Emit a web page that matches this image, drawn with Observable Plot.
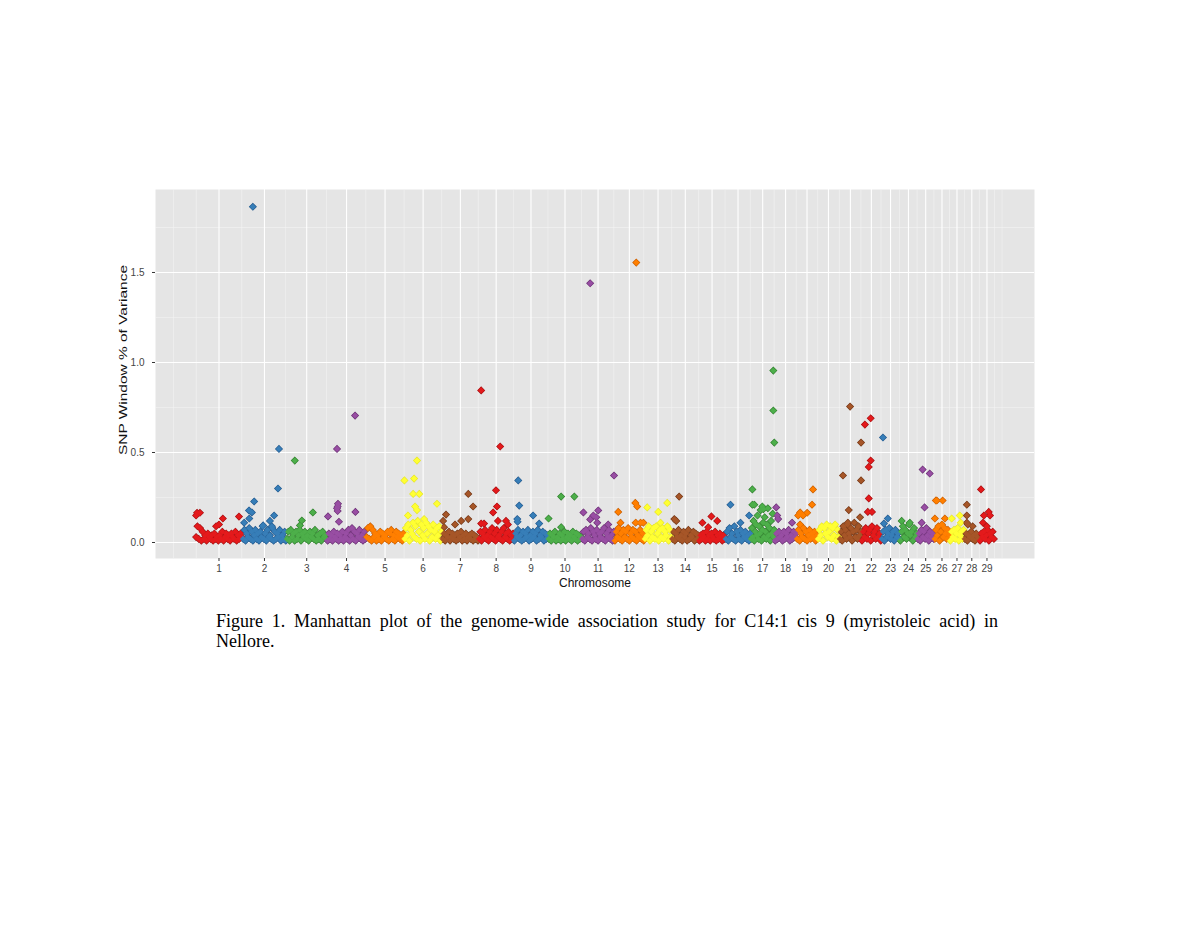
<!DOCTYPE html>
<html><head><meta charset="utf-8">
<script src="https://cdn.jsdelivr.net/npm/d3@7"></script>
<script src="https://cdn.jsdelivr.net/npm/@observablehq/plot@0.6"></script>
<style>
body{margin:0;background:#fff;width:1200px;height:927px;position:relative;overflow:hidden;}
#chart{position:absolute;left:0;top:0;}
#caption{position:absolute;left:216px;top:611px;width:782px;font-family:"Liberation Serif","Times New Roman",serif;font-size:18px;line-height:20px;color:#000;}
.l1{text-align:justify;text-align-last:justify;white-space:nowrap;}
</style></head><body>
<div id="chart"></div>
<div id="caption"><div class="l1">Figure 1. Manhattan plot of the genome-wide association study for C14:1 cis 9 (myristoleic acid) in</div><div>Nellore.</div></div>
<script>
// chromosome labels and lengths (Mb, approximate)
const chromLabels = ["1","2","3","4","5","6","7","8","9","10","11","12","13","14","15","16","17","18","19","20","21","22","23","24","25","26","27","28","29"];
const chromLengthMb = [146,136,126,121,118,118,113,109,107,104,101,93,85,84,82,79,74,68,65,68,68,62,57,54,53,48,45,47,47];
const setColors = ["#E41A1C","#377EB8","#4DAF4A","#984EA3","#FF7F00","#FFFF33","#A65628"];
const setStrokes = ["#9E1214","#24578A","#2E7A2C","#652C6E","#C25A00","#E3E32A","#6E3516"];
const yTicks = [0, 0.5, 1, 1.5];

// background windows (% of variance x100), evenly spread along each chromosome
const chr1 = [3,9,2,8,1,6,2,4,1,5,3,2,4,1,5,2,3,1,4,2,6,1,3,5,2,4,1,5,3,2,6,1,4,2,5,3];
const chr2 = [2,7,1,5,3,8,2,6,1,4,7,2,5,1,6,3,9,2,5,1,7,3,4,2,8,1,6,2,5,3,7,1,4,2,6,1];
const chr3 = [2,6,1,7,3,5,1,6,2,4,7,1,5,3,6,2,4,1,6,3,5,2,7,1,4,2,5,1,6,3,4,2];
const chr4 = [1,5,2,4,1,6,3,2,5,1,4,2,6,1,3,5,2,7,1,4,8,2,6,1,5,3,7,2,4,1,6,2];
const chr5 = [3,8,2,9,1,7,3,5,1,4,2,6,1,5,3,4,2,6,1,5,7,2,4,1,6,3,5,2,4,1,5];
const chr6 = [2,8,4,10,1,7,5,11,3,9,2,12,6,1,10,4,8,2,11,5,9,1,7,3,10,6,2,8,4,9,1,6];
const chr7 = [2,5,1,4,3,6,1,3,5,2,4,1,5,2,3,6,1,4,2,5,1,3,4,2,5,1,4,2,3,1];
const chr8 = [2,6,1,5,3,7,2,4,1,6,3,8,2,5,1,7,3,4,2,6,1,8,3,5,2,6,1,4,2,5];
const chr9 = [1,5,3,7,2,4,1,6,2,5,3,7,1,4,2,6,3,5,1,7,2,4,3,6,1,5,2,4];
const chr10 = [2,5,1,4,3,6,1,3,2,5,1,4,2,6,1,3,5,2,4,1,6,3,2,5,1,4,2,3];
const chr11 = [2,6,1,7,3,5,2,8,1,6,4,2,7,1,5,3,6,2,8,1,5,3,7,2,4,1,6];
const chr12 = [1,6,3,8,2,5,1,7,3,6,2,8,1,5,3,7,2,6,1,4,3,7,2,5,1];
const chr13 = [2,7,4,9,1,6,3,8,2,9,5,1,7,3,8,2,6,4,9,1,7,3];
const chr14 = [2,6,1,5,3,7,2,4,1,6,3,5,1,7,2,4,3,6,1,5,2,4];
const chr15 = [1,4,2,5,3,1,6,2,4,1,5,3,2,6,1,4,2,5,3,1,4,2];
const chr16 = [2,6,1,8,3,5,2,9,1,6,4,2,7,1,5,3,6,2,4,1,5];
const chr17 = [2,8,3,12,1,6,10,4,15,2,9,5,18,1,7,11,3,14,6,2,10,19,4,8,1,12,5,16,3,7];
const chr18 = [1,5,2,6,3,4,1,6,2,5,3,7,1,4,2,6,3,5];
const chr19 = [2,7,1,5,3,8,2,6,1,4,7,2,5,3,6,1,4];
const chr20 = [2,7,4,9,1,8,5,10,3,6,9,2,8,4,10,1,7,3];
const chr21 = [2,6,1,9,4,7,2,10,5,3,8,1,6,11,3,7,2,9,4,6];
const chr22 = [1,6,3,8,2,5,7,1,9,4,6,2,8,3,5,1];
const chr23 = [2,6,1,7,3,5,8,2,4,6,1,7,3,5,2];
const chr24 = [1,6,9,3,7,2,5,10,4,6,1,8,3,5];
const chr25 = [2,5,1,7,3,6,2,8,4,1,6,3,5,2];
const chr26 = [2,7,4,9,1,6,10,3,8,5,2,7,4];
const chr27 = [1,6,3,7,2,5,8,1,4,6,2,7];
const chr28 = [2,5,1,4,3,6,2,4,1,5,3,2];
const chr29 = [1,5,3,6,2,4,7,1,5,3,6,2];
const baselines = [chr1,chr2,chr3,chr4,chr5,chr6,chr7,chr8,chr9,chr10,chr11,chr12,chr13,chr14,chr15,chr16,chr17,chr18,chr19,chr20,chr21,chr22,chr23,chr24,chr25,chr26,chr27,chr28,chr29];

// higher windows: [chromosome, position within chromosome (Mb), % of variance]
const peaks = [
 [1,2,0.15],[1,5,0.165],[1,14,0.165],[1,64,0.09],[1,73,0.10],[1,85,0.133],[1,135,0.144],
 [2,32,1.865],[2,113,0.52],[2,110,0.30],[2,36,0.228],[2,20,0.178],[2,29,0.167],[2,21,0.133],[2,5,0.11],[2,85,0.12],[2,98,0.15],[2,64,0.095],[2,91,0.09],
 [3,26,0.455],[3,82,0.167],[3,48,0.122],[3,42,0.095],
 [4,87,0.705],[4,31,0.52],[4,88,0.17],[4,3,0.145],[4,34,0.215],[4,33,0.2],[4,31,0.19],[4,33,0.175],[4,37,0.115],
 [6,40,0.455],[6,1,0.345],[6,31,0.355],[6,28,0.27],[6,47,0.27],[6,34,0.2],[6,40,0.18],[6,12,0.15],[6,102,0.215],[6,62,0.13],
 [7,12,0.155],[7,3,0.12],[7,6,0.085],[7,81,0.27],[7,96,0.2],[7,81,0.13],[7,59,0.12],[7,40,0.10],
 [8,8,0.845],[8,67,0.533],[8,54,0.29],[8,57,0.2],[8,45,0.167],[8,60,0.12],[8,85,0.12],[8,91,0.10],[8,8,0.105],[8,17,0.105],
 [9,14,0.345],[9,17,0.205],[9,11,0.13],[9,12,0.115],[9,60,0.15],[9,79,0.105],
 [10,40,0.255],[10,81,0.255],[10,1,0.133],[10,40,0.085],
 [11,26,1.44],[11,100,0.372],[11,5,0.167],[11,51,0.178],[11,36,0.15],[11,26,0.128],[11,48,0.11],[11,45,0.14],[11,82,0.10],
 [12,68,1.555],[12,65,0.22],[12,71,0.2],[12,12,0.17],[12,19,0.11],[12,66,0.11],[12,81,0.11],[12,90,0.11],
 [13,9,0.195],[13,71,0.22],[13,43,0.17],[13,50,0.11],
 [14,23,0.255],[14,8,0.13],[14,14,0.12],
 [15,39,0.145],[15,11,0.11],[15,57,0.12],[15,29,0.085],
 [16,16,0.21],[16,74,0.15],[16,47,0.11],
 [17,70,0.955],[17,70,0.733],[17,73,0.555],[17,5,0.295],[17,5,0.21],[17,11,0.21],[17,36,0.2],[17,39,0.185],
 [18,5,0.195],[18,8,0.15],[18,11,0.13],[18,54,0.11],
 [19,51,0.295],[19,48,0.21],[19,5,0.15],[19,11,0.167],[19,20,0.15],[19,33,0.165],[19,11,0.10],
 [21,33,0.755],[21,67,0.555],[21,67,0.345],[21,11,0.372],[21,29,0.18],[21,26,0.11],[21,64,0.14],
 [22,11,0.655],[22,29,0.69],[22,29,0.455],[22,23,0.42],[22,23,0.245],[22,20,0.17],[22,33,0.17],
 [23,5,0.583],[23,20,0.133],[23,8,0.105],
 [24,6,0.12],[24,31,0.11],
 [25,17,0.405],[25,39,0.383],[25,23,0.195],[25,14,0.11],
 [26,5,0.233],[26,8,0.233],[26,26,0.233],[26,2,0.133],[26,33,0.133],
 [27,6,0.133],[27,31,0.15],[27,34,0.11],
 [28,8,0.21],[28,8,0.15],[28,8,0.11],[28,11,0.10],[28,26,0.09],
 [29,5,0.295],[29,29,0.17],[29,33,0.15],[29,14,0.15],[29,11,0.11],[29,23,0.09]
];

const starts = [];
let acc = 0;
for (const L of chromLengthMb) { starts.push(acc); acc += L; }
const total = acc;
const centers = chromLengthMb.map((L, i) => starts[i] + L / 2);
const labelOf = new Map(centers.map((c, i) => [c, chromLabels[i]]));
const majors = [centers[0] - (centers[1] - centers[0]), ...centers, centers[28] + (centers[28] - centers[27])];
const minorX = [majors[0], majors[majors.length - 1]];
for (let i = 0; i < majors.length - 1; i++) minorX.push((majors[i] + majors[i + 1]) / 2);
const minorY = [0.25, 0.75, 1.25, 1.75];

const points = [];
baselines.forEach((arr, i) => {
  const n = arr.length;
  arr.forEach((v, j) => points.push({chr: i + 1, pos: starts[i] + (j + 0.5) / n * chromLengthMb[i], val: v / 100}));
});
peaks.forEach(([c, p, v]) => points.push({chr: c, pos: starts[c - 1] + p, val: v}));
points.sort((a, b) => a.chr - b.chr);

const diamond = {draw(ctx, size) { const r = Math.sqrt(size / 2); ctx.moveTo(0, -r); ctx.lineTo(r, 0); ctx.lineTo(0, r); ctx.lineTo(-r, 0); ctx.closePath(); }};
const fillOf = d => setColors[(d.chr - 1) % 7];
const edgeOf = d => setStrokes[(d.chr - 1) % 7];
const yTitle = "SNP Window % of Variance";

const chart = Plot.plot({
  width: 1200, height: 600,
  marginLeft: 155, marginRight: 166, marginTop: 189, marginBottom: 42,
  style: {fontFamily: "'Liberation Sans', Arial, sans-serif", background: "transparent"},
  x: {domain: [-0.05 * total, 1.05 * total], axis: null},
  y: {domain: [-0.0889, 1.961], axis: null},
  color: {type: "identity"},
  marks: [
    Plot.frame({fill: "#E5E5E5", stroke: null}),
    Plot.ruleX(minorX, {stroke: "#F3F3F3", strokeWidth: 0.6}),
    Plot.ruleY(minorY, {stroke: "#F3F3F3", strokeWidth: 0.6}),
    Plot.ruleX(centers, {stroke: "#FFFFFF", strokeWidth: 1.1}),
    Plot.ruleY(yTicks, {stroke: "#FFFFFF", strokeWidth: 1.1}),
    // dark rim layer, then fill layer on top
    Plot.dot(points, {x: "pos", y: "val", r: 2.5, symbol: diamond, fill: edgeOf, stroke: edgeOf, strokeWidth: 1.3}),
    Plot.dot(points, {x: "pos", y: "val", r: 2.5, symbol: diamond, fill: fillOf, stroke: fillOf, strokeWidth: 0.3}),
    Plot.axisX(centers, {anchor: "bottom", tickSize: 3, tickPadding: 3, fontSize: 10, label: null,
      tickFormat: d => labelOf.get(d), stroke: "#333333", fill: "#444444"}),
    Plot.axisY(yTicks, {anchor: "left", tickSize: 3, tickPadding: 8, fontSize: 10, label: null,
      tickFormat: d3.format(".1f"), stroke: "#333333", fill: "#444444"}),
    Plot.text([yTitle], {frameAnchor: "left", textAnchor: "middle", dx: -32, dy: -14, rotate: -90, fontSize: 11.5, fill: "#111"}),
    Plot.text(["Chromosome"], {frameAnchor: "bottom", lineAnchor: "middle", dy: 25, fontSize: 12, fill: "#111"})
  ]
});
// the source figure is stretched vertically: stretch the rotated y title along its length
for (const t of chart.querySelectorAll("text")) {
  if (t.textContent === yTitle) { t.setAttribute("textLength", 190); t.setAttribute("lengthAdjust", "spacingAndGlyphs"); }
}
document.getElementById("chart").appendChild(chart);
</script></body></html>
